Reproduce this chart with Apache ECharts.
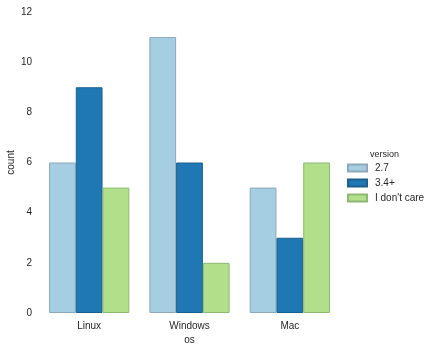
<!DOCTYPE html>
<html>
<head>
<meta charset="utf-8">
<script src="https://cdn.jsdelivr.net/npm/echarts@6/dist/echarts.min.js"></script>
<style>
  html, body { margin: 0; padding: 0; background: #fff; }
  #chart { width: 432px; height: 353px; }
</style>
</head>
<body>
<div id="chart"></div>
<script>
// data
var osNames = ['Linux', 'Windows', 'Mac'];
var seriesNames = ['2.7', '3.4+', "I don't care"];
var v27 = [6, 11, 5];
var v34 = [9, 6, 3];
var vNoCare = [5, 2, 6];
var yTicks = [0, 2, 4, 6, 8, 10, 12];

var colors = ['#a6cee3', '#1f78b4', '#b2df8a'];
var edges = ['#8da9b9', '#1b5f8e', '#8fb872'];
var textColor = '#262626';
var font = 'Liberation Sans';

var values = [v27, v34, vNoCare];
var series = [];
for (var i = 0; i < seriesNames.length; i++) {
    series.push({
        name: seriesNames[i],
        type: 'bar',
        data: values[i],
        barGap: '0%',
        barCategoryGap: '20%',
        itemStyle: {
            color: colors[i],
            borderColor: edges[i],
            borderWidth: 1
        }
    });
}

var myChart = echarts.init(document.getElementById('chart'));
myChart.setOption({
    animation: false,
    backgroundColor: '#fff',
    textStyle: { fontFamily: font, color: textColor },
    title: {
        text: 'version',
        left: 365,
        top: 145,
        textStyle: { fontFamily: font, fontSize: 9, fontWeight: 'normal', color: textColor }
    },
    legend: {
        data: seriesNames,
        orient: 'vertical',
        left: 347,
        top: 163,
        padding: 0,
        itemWidth: 19,
        itemHeight: 7,
        itemGap: 5,
        icon: 'rect',
        textStyle: { fontFamily: font, fontSize: 10, color: textColor, padding: [0, 0, 0, 3] }
    },
    grid: { left: 39, right: 92, top: 12, bottom: 40, containLabel: false, outerBoundsMode: 'none' },
    xAxis: {
        type: 'category',
        data: osNames,
        name: 'os',
        nameLocation: 'middle',
        nameGap: 22,
        nameMoveOverlap: false,
        nameTextStyle: { fontFamily: font, fontSize: 10, color: textColor },
        axisLine: { show: false },
        axisTick: { show: false },
        axisLabel: { fontFamily: font, fontSize: 10, color: textColor, margin: 8 }
    },
    yAxis: {
        type: 'value',
        min: yTicks[0],
        max: yTicks[yTicks.length - 1],
        interval: 2,
        name: 'count',
        nameLocation: 'middle',
        nameGap: 23,
        nameMoveOverlap: false,
        nameTextStyle: { fontFamily: font, fontSize: 10, color: textColor },
        splitLine: { show: false },
        axisLine: { show: false },
        axisTick: { show: false },
        axisLabel: { fontFamily: font, fontSize: 10, color: textColor, margin: 7 }
    },
    series: series
});
</script>
</body>
</html>
